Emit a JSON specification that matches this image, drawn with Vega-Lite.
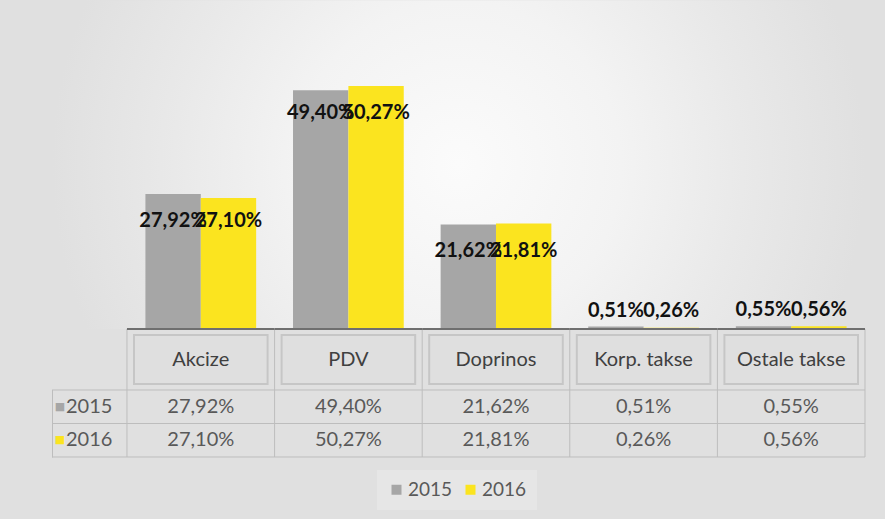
{
  "$schema": "https://vega.github.io/schema/vega-lite/v6.json",
  "background": "#e0e0e0",
  "autosize": {"type": "none"},
  "padding": {"left": 52, "top": 39, "right": 20, "bottom": 62},
  "width": 813,
  "height": 418,
  "config": {"view": {"stroke": null}, "font": "Lato"},
  "datasets": {
    "vals": [
      {"cat": "Akcize", "year": "2015", "value": 27.92},
      {"cat": "Akcize", "year": "2016", "value": 27.10},
      {"cat": "PDV", "year": "2015", "value": 49.40},
      {"cat": "PDV", "year": "2016", "value": 50.27},
      {"cat": "Doprinos", "year": "2015", "value": 21.62},
      {"cat": "Doprinos", "year": "2016", "value": 21.81},
      {"cat": "Korp. takse", "year": "2015", "value": 0.51},
      {"cat": "Korp. takse", "year": "2016", "value": 0.26},
      {"cat": "Ostale takse", "year": "2015", "value": 0.55},
      {"cat": "Ostale takse", "year": "2016", "value": 0.56}
    ],
    "cats": [
      {"cat": "Akcize"}, {"cat": "PDV"}, {"cat": "Doprinos"}, {"cat": "Korp. takse"}, {"cat": "Ostale takse"}
    ],
    "one": [{"k": 1}]
  },
  "layer": [
    {
      "data": {"name": "one"},
      "mark": {
        "type": "rect",
        "color": {
          "gradient": "radial",
          "x1": 0.5, "y1": 0.5, "x2": 0.5, "y2": 0.5, "r1": 0, "r2": 0.5,
          "stops": [
            {"offset": 0, "color": "#fbfbfb"},
            {"offset": 0.4, "color": "#f3f3f3"},
            {"offset": 0.7, "color": "#e9e9e9"},
            {"offset": 1, "color": "#e0e0e0"}
          ]
        }
      },
      "encoding": {
        "y": {"datum": 68, "type": "quantitative"},
        "y2": {"datum": 0}
      }
    },
    {
      "data": {"name": "one"},
      "mark": {"type": "rect", "color": "#e0e0e0"},
      "encoding": {
        "y": {"datum": 0, "type": "quantitative"},
        "y2": {"datum": -12.62}
      }
    },
    {
      "data": {"name": "vals"},
      "mark": {"type": "bar"},
      "encoding": {
        "x": {
          "field": "cat", "type": "nominal",
          "sort": ["Akcize", "PDV", "Doprinos", "Korp. takse", "Ostale takse"],
          "scale": {"domain": ["Akcize", "PDV", "Doprinos", "Korp. takse", "Ostale takse"], "paddingInner": 0, "paddingOuter": 0.254, "align": 1},
          "axis": null
        },
        "xOffset": {"field": "year", "type": "nominal", "scale": {"paddingInner": 0, "paddingOuter": 0.333}},
        "y": {
          "field": "value", "type": "quantitative",
          "scale": {"domain": [-26.48, 60], "nice": false},
          "axis": {"domain": true, "domainColor": "#bdbdbd", "domainWidth": 1, "labels": false, "ticks": false, "grid": false, "title": null, "zindex": 0}
        },
        "color": {
          "field": "year", "type": "nominal",
          "scale": {"domain": ["2015", "2016"], "range": ["#a6a6a6", "#fbe41f"]},
          "legend": {
            "title": null, "orient": "none", "legendX": 325, "legendY": 431,
            "direction": "horizontal", "symbolType": "square", "symbolSize": 100,
            "symbolStrokeWidth": 0, "labelFontSize": 19, "labelFont": "Lato",
            "labelColor": "#595959", "fillColor": "#e6e6e6", "padding": 10,
            "columnPadding": 8, "labelOffset": 2
          }
        }
      }
    },
    {
      "data": {"name": "vals"},
      "transform": [
        {"calculate": "replace(format(datum.value, '.2f'), '.', ',') + '%'", "as": "label"},
        {"joinaggregate": [{"op": "max", "field": "value", "as": "maxv"}], "groupby": ["cat"]},
        {"filter": "datum.value > 5"}
      ],
      "mark": {"type": "text", "dy": 27, "baseline": "middle", "fontSize": 20, "fontWeight": "bold", "font": "Lato", "color": "#111111"},
      "encoding": {
        "x": {"field": "cat", "type": "nominal", "sort": ["Akcize", "PDV", "Doprinos", "Korp. takse", "Ostale takse"]},
        "xOffset": {"field": "year", "type": "nominal"},
        "y": {"field": "maxv", "type": "quantitative"},
        "text": {"field": "label"}
      }
    },
    {
      "data": {"name": "vals"},
      "transform": [
        {"calculate": "replace(format(datum.value, '.2f'), '.', ',') + '%'", "as": "label"},
        {"joinaggregate": [{"op": "max", "field": "value", "as": "maxv"}], "groupby": ["cat"]},
        {"filter": "datum.value <= 5"}
      ],
      "mark": {"type": "text", "dy": -16, "baseline": "middle", "fontSize": 20, "fontWeight": "bold", "font": "Lato", "color": "#111111"},
      "encoding": {
        "x": {"field": "cat", "type": "nominal", "sort": ["Akcize", "PDV", "Doprinos", "Korp. takse", "Ostale takse"]},
        "xOffset": {"field": "year", "type": "nominal"},
        "y": {"field": "maxv", "type": "quantitative"},
        "text": {"field": "label"}
      }
    },
    {
      "data": {"name": "cats"},
      "mark": {"type": "bar", "width": {"band": 0.905}, "fill": "#dfdfdf", "stroke": "#c6c6c6", "strokeWidth": 2},
      "encoding": {
        "x": {"field": "cat", "type": "nominal", "sort": ["Akcize", "PDV", "Doprinos", "Korp. takse", "Ostale takse"]},
        "y": {"datum": -1.24, "type": "quantitative"},
        "y2": {"datum": -11.38}
      }
    },
    {
      "data": {"name": "cats"},
      "mark": {"type": "text", "fontSize": 20, "font": "Lato", "color": "#404040", "baseline": "middle"},
      "encoding": {
        "x": {"field": "cat", "type": "nominal", "sort": ["Akcize", "PDV", "Doprinos", "Korp. takse", "Ostale takse"]},
        "y": {"datum": -6.31, "type": "quantitative"},
        "text": {"field": "cat"}
      }
    },
    {
      "data": {"name": "cats"},
      "mark": {"type": "rule", "color": "#bdbdbd", "strokeWidth": 1},
      "encoding": {
        "x": {"field": "cat", "type": "nominal", "bandPosition": 0, "sort": ["Akcize", "PDV", "Doprinos", "Korp. takse", "Ostale takse"]},
        "y": {"datum": 0, "type": "quantitative"},
        "y2": {"datum": -26.48}
      }
    },
    {
      "data": {"name": "cats"},
      "transform": [{"filter": "datum.cat == 'Ostale takse'"}],
      "mark": {"type": "rule", "color": "#bdbdbd", "strokeWidth": 1},
      "encoding": {
        "x": {"field": "cat", "type": "nominal", "bandPosition": 1, "sort": ["Akcize", "PDV", "Doprinos", "Korp. takse", "Ostale takse"]},
        "y": {"datum": 0, "type": "quantitative"},
        "y2": {"datum": -26.48}
      }
    },
    {
      "data": {"name": "one"},
      "mark": {"type": "rule", "color": "#bdbdbd", "strokeWidth": 1},
      "encoding": {"y": {"datum": -12.62, "type": "quantitative"}}
    },
    {
      "data": {"name": "one"},
      "mark": {"type": "rule", "color": "#bdbdbd", "strokeWidth": 1},
      "encoding": {"y": {"datum": -19.55, "type": "quantitative"}}
    },
    {
      "data": {"name": "one"},
      "mark": {"type": "rule", "color": "#bdbdbd", "strokeWidth": 1},
      "encoding": {"y": {"datum": -26.48, "type": "quantitative"}}
    },
    {
      "data": {"name": "cats"},
      "mark": {"type": "bar", "color": "#6f6f6f"},
      "encoding": {
        "x": {"field": "cat", "type": "nominal", "sort": ["Akcize", "PDV", "Doprinos", "Korp. takse", "Ostale takse"]},
        "y": {"datum": 0.2, "type": "quantitative"},
        "y2": {"datum": -0.2}
      }
    },
    {
      "data": {"name": "vals"},
      "transform": [
        {"filter": "datum.year == '2015'"},
        {"calculate": "replace(format(datum.value, '.2f'), '.', ',') + '%'", "as": "label"}
      ],
      "mark": {"type": "text", "baseline": "middle", "fontSize": 20, "font": "Lato", "color": "#595959"},
      "encoding": {
        "x": {"field": "cat", "type": "nominal", "sort": ["Akcize", "PDV", "Doprinos", "Korp. takse", "Ostale takse"]},
        "y": {"datum": -16.08, "type": "quantitative"},
        "text": {"field": "label"}
      }
    },
    {
      "data": {"name": "vals"},
      "transform": [
        {"filter": "datum.year == '2016'"},
        {"calculate": "replace(format(datum.value, '.2f'), '.', ',') + '%'", "as": "label"}
      ],
      "mark": {"type": "text", "baseline": "middle", "fontSize": 20, "font": "Lato", "color": "#595959"},
      "encoding": {
        "x": {"field": "cat", "type": "nominal", "sort": ["Akcize", "PDV", "Doprinos", "Korp. takse", "Ostale takse"]},
        "y": {"datum": -23.01, "type": "quantitative"},
        "text": {"field": "label"}
      }
    },
    {
      "data": {"values": [{"year": "2015", "sq": "■"}]},
      "mark": {"type": "text", "align": "center", "baseline": "middle", "dx": -67, "fontSize": 11, "font": "DejaVu Sans", "color": "#a6a6a6"},
      "encoding": {
        "x": {"datum": "Akcize", "type": "nominal", "bandPosition": 0},
        "y": {"datum": -16.08, "type": "quantitative"},
        "text": {"field": "sq"}
      }
    },
    {
      "data": {"values": [{"year": "2016", "sq": "■"}]},
      "mark": {"type": "text", "align": "center", "baseline": "middle", "dx": -67, "fontSize": 11, "font": "DejaVu Sans", "color": "#fbe41f"},
      "encoding": {
        "x": {"datum": "Akcize", "type": "nominal", "bandPosition": 0},
        "y": {"datum": -23.01, "type": "quantitative"},
        "text": {"field": "sq"}
      }
    },
    {
      "data": {"values": [{"year": "2015"}]},
      "mark": {"type": "text", "align": "left", "baseline": "middle", "dx": -61, "fontSize": 20, "font": "Lato", "color": "#595959"},
      "encoding": {
        "x": {"datum": "Akcize", "type": "nominal", "bandPosition": 0},
        "y": {"datum": -16.08, "type": "quantitative"},
        "text": {"field": "year"}
      }
    },
    {
      "data": {"values": [{"year": "2016"}]},
      "mark": {"type": "text", "align": "left", "baseline": "middle", "dx": -61, "fontSize": 20, "font": "Lato", "color": "#595959"},
      "encoding": {
        "x": {"datum": "Akcize", "type": "nominal", "bandPosition": 0},
        "y": {"datum": -23.01, "type": "quantitative"},
        "text": {"field": "year"}
      }
    }
  ]
}
